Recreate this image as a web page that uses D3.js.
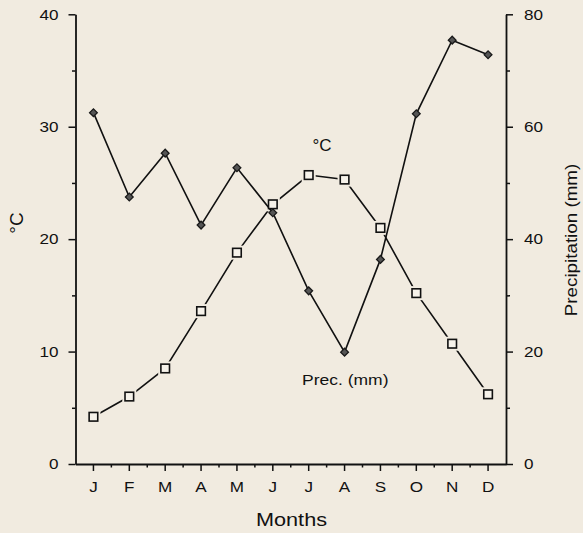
<!DOCTYPE html>
<html>
<head>
<meta charset="utf-8">
<script src="https://cdn.jsdelivr.net/npm/d3@7"></script>
<style>
  html, body { margin: 0; padding: 0; background: #f1ebe0; }
  svg { display: block; font-family: "Liberation Sans", Arial, Helvetica, sans-serif; }
</style>
</head>
<body>
<svg id="chart" width="583" height="533"></svg>
<script>
const months = ["J","F","M","A","M","J","J","A","S","O","N","D"];
const tempC = [4.2, 6.0, 8.5, 13.6, 18.8, 23.1, 25.7, 25.3, 21.0, 15.2, 10.7, 6.2];
const precipMm = [62.5, 47.5, 55.3, 42.5, 52.7, 44.7, 30.8, 19.9, 36.4, 62.3, 75.4, 72.8];
const leftTicks = [0, 10, 20, 30, 40];
const leftMinor = [5, 15, 25, 35];
const rightTicks = [0, 20, 40, 60, 80];
const rightMinor = [10, 30, 50, 70];

const W = 583, H = 533;
const plot = { left: 75.5, right: 506, top: 14.3, bottom: 464 };
const SX = 1.14; // horizontal stretch of the original lettering
const bg = "#f1ebe0";

const svg = d3.select("#chart");
svg.append("rect").attr("width", W).attr("height", H).attr("fill", bg);

const idx = months.map((d, i) => i);
const x = d3.scaleBand().domain(idx).range([plot.left, plot.right]).padding(0);
const cx = i => x(i) + x.bandwidth() / 2;
const yL = d3.scaleLinear().domain([0, 40]).range([plot.bottom, plot.top]);
const yR = d3.scaleLinear().domain([0, 80]).range([plot.bottom, plot.top]);

const axisStroke = g => {
  g.selectAll("path.domain").attr("stroke", "#111").attr("stroke-width", 1.8);
  g.selectAll(".tick line").attr("stroke", "#111").attr("stroke-width", 1.5);
  g.selectAll("text").attr("fill", "#111").attr("font-size", 15)
    .attr("font-family", "'Liberation Sans', Arial, sans-serif");
};

// Left axis
const gL = svg.append("g").attr("transform", `translate(${plot.left},0)`)
  .call(d3.axisLeft(yL).tickValues(leftTicks).tickSize(7).tickSizeOuter(0));
axisStroke(gL);
gL.selectAll(".tick text").attr("x", -17 / SX).attr("transform", `scale(${SX},1)`);
svg.append("g").attr("transform", `translate(${plot.left},0)`)
  .call(d3.axisLeft(yL).tickValues(leftMinor).tickSize(3.5).tickFormat(""))
  .call(g => g.select("path.domain").remove())
  .call(axisStroke);

// Right axis
const gR = svg.append("g").attr("transform", `translate(${plot.right},0)`)
  .call(d3.axisRight(yR).tickValues(rightTicks).tickSize(7).tickSizeOuter(0));
axisStroke(gR);
gR.selectAll(".tick text").attr("x", 18 / SX).attr("transform", `scale(${SX},1)`);
svg.append("g").attr("transform", `translate(${plot.right},0)`)
  .call(d3.axisRight(yR).tickValues(rightMinor).tickSize(4).tickFormat(""))
  .call(g => g.select("path.domain").remove())
  .call(axisStroke);

// Bottom axis
const gB = svg.append("g").attr("transform", `translate(0,${plot.bottom})`)
  .call(d3.axisBottom(x).tickSize(7).tickSizeOuter(0).tickFormat(i => months[i]));
axisStroke(gB);
gB.selectAll(".tick text").attr("y", 28.4).attr("dy", 0).attr("transform", `scale(${SX},1)`);
// minor ticks at band boundaries
const gBm = svg.append("g").attr("transform", `translate(0,${plot.bottom})`);
gBm.selectAll("line").data(idx.slice(1)).join("line")
  .attr("x1", i => x(i)).attr("x2", i => x(i))
  .attr("y1", 0).attr("y2", 3.5)
  .attr("stroke", "#111").attr("stroke-width", 1.5);

// Axis titles
svg.append("text")
  .attr("transform", `translate(291.5,525.8) scale(${SX},1)`)
  .attr("text-anchor", "middle").attr("font-size", 19).attr("fill", "#111")
  .text("Months");
svg.append("text")
  .attr("transform", "translate(22.5,223) rotate(-90)")
  .attr("text-anchor", "middle").attr("font-size", 19).attr("fill", "#111")
  .text("°C");
svg.append("text")
  .attr("transform", `translate(577,240) rotate(-90) scale(${SX},1)`)
  .attr("text-anchor", "middle").attr("font-size", 16.5).attr("fill", "#111")
  .text("Precipitation (mm)");

// Temperature line (open squares)
const lineT = d3.line().x((d, i) => cx(i)).y(d => yL(d));
svg.append("path").datum(tempC).attr("d", lineT)
  .attr("fill", "none").attr("stroke", "#111").attr("stroke-width", 1.6);
svg.selectAll("rect.halo").data(tempC).join("rect").attr("class", "halo")
  .attr("x", (d, i) => cx(i) - 7).attr("y", d => yL(d) - 7)
  .attr("width", 14).attr("height", 14).attr("fill", bg);

// Precipitation line (filled diamonds)
const lineP = d3.line().x((d, i) => cx(i)).y(d => yR(d));
svg.append("path").datum(precipMm).attr("d", lineP)
  .attr("fill", "none").attr("stroke", "#111").attr("stroke-width", 1.6);

svg.selectAll("rect.sq").data(tempC).join("rect").attr("class", "sq")
  .attr("x", (d, i) => cx(i) - 4.3).attr("y", d => yL(d) - 4.3)
  .attr("width", 8.6).attr("height", 8.6)
  .attr("fill", "#f6f2ea").attr("stroke", "#111").attr("stroke-width", 1.6);

svg.selectAll("path.dia").data(precipMm).join("path").attr("class", "dia")
  .attr("d", d3.symbol(d3.symbolSquare, 30)())
  .attr("transform", (d, i) => `translate(${cx(i)},${yR(d)}) rotate(45)`)
  .attr("fill", "#555").attr("stroke", "#1a1a1a").attr("stroke-width", 1.3);

// Series labels
svg.append("text")
  .attr("x", 322).attr("y", 150.7).attr("text-anchor", "middle")
  .attr("font-size", 17).attr("fill", "#111").text("°C");
svg.append("text")
  .attr("transform", `translate(302,384.5) scale(1.13,1)`)
  .attr("font-size", 15.5).attr("fill", "#111").text("Prec. (mm)");
</script>
</body>
</html>
